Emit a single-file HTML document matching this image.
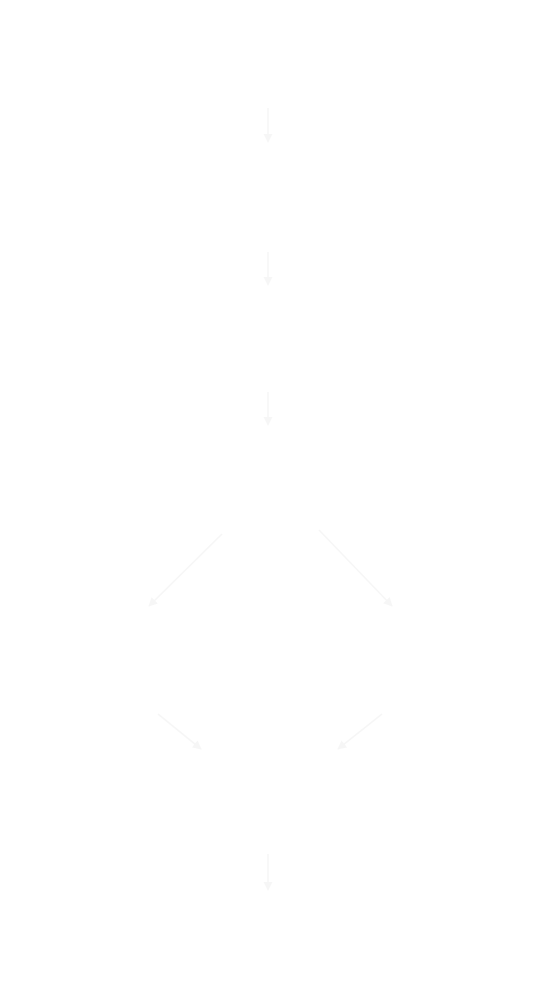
<!DOCTYPE html>
<html><head><meta charset="utf-8"><style>html,body{margin:0;padding:0;background:#fff;width:542px;height:1000px;overflow:hidden}</style></head>
<body>
<svg width="542" height="1000" viewBox="0 0 542 1000" xmlns="http://www.w3.org/2000/svg">
<defs><marker id="a" viewBox="0 0 10 10" refX="9" refY="5" markerWidth="9" markerHeight="9" markerUnits="userSpaceOnUse" orient="auto"><path d="M0,0 L10,5 L0,10 z" fill="#f6f6f6"/></marker></defs>
<g stroke="#f6f6f6" stroke-width="1.5" fill="none" marker-end="url(#a)">
<line x1="268" y1="108" x2="268" y2="142"/>
<line x1="268" y1="252" x2="268" y2="285"/>
<line x1="268" y1="392" x2="268" y2="425"/>
<line x1="222" y1="534" x2="149" y2="606"/>
<line x1="319" y1="530" x2="392" y2="606"/>
<line x1="158" y1="714" x2="201" y2="749"/>
<line x1="382" y1="714" x2="338" y2="749"/>
<line x1="268" y1="854" x2="268" y2="890"/>
</g>
</svg>
</body></html>
